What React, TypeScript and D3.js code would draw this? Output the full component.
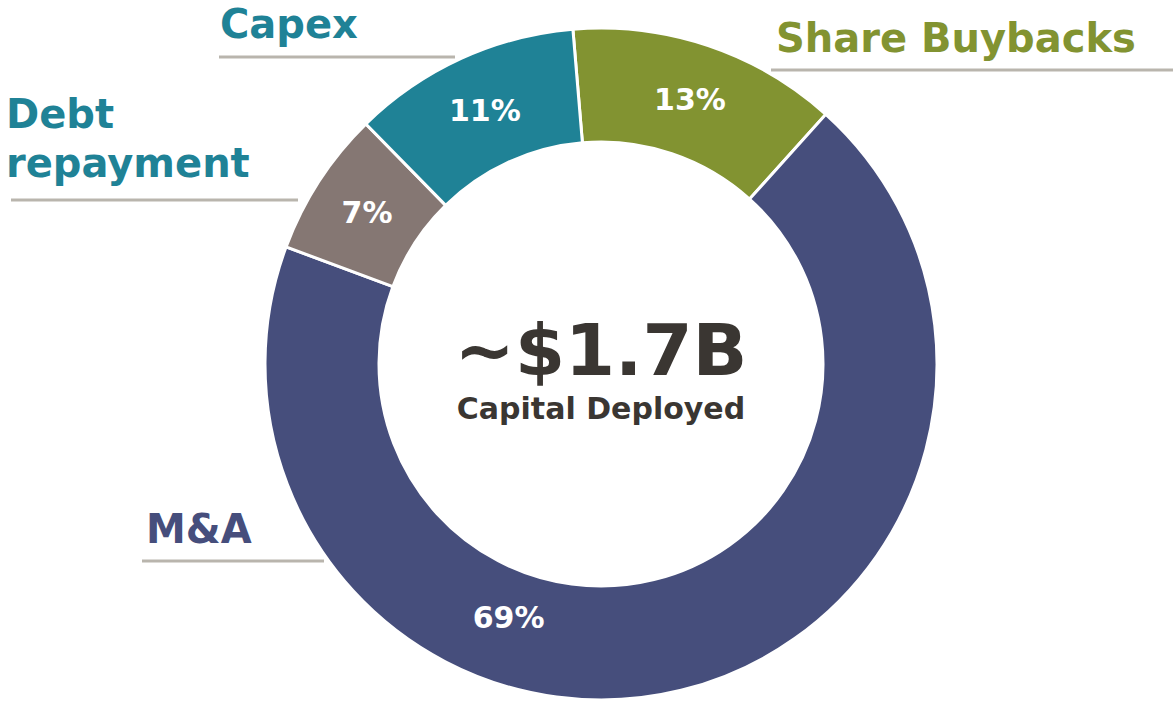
import React from 'react'
import * as d3 from 'd3'

const width = 1173
const height = 703
const cx = 601
const cy = 364
const outerR = 336
const innerR = 222
const startDeg = -4.8

const categories = ['Share Buybacks', 'M&A', 'Debt repayment', 'Capex']
const shares = [13, 69, 7, 11]
const colors = ['#829331', '#464E7C', '#857773', '#1F8296']
const labelColors = ['#829331', '#464E7C', '#1F8296', '#1F8296']
const totalText = '~$1.7B'
const totalCaption = 'Capital Deployed'

const font = "'DejaVu Sans', Verdana, sans-serif"
const lineColor = '#B9B5AD'

// callout labels outside the ring: text lines, anchor x, first baseline, underline
const callouts = [
  { lines: ['Share Buybacks'], x: 776, y: 52, line: [771, 1173, 70] },
  { lines: ['M&A'], x: 146, y: 543, line: [142, 324, 561] },
  { lines: ['Debt', 'repayment'], x: 6, y: 128, line: [11, 298, 200] },
  { lines: ['Capex'], x: 220, y: 38, line: [219, 455, 57] },
]

export default function App() {
  const start = (startDeg * Math.PI) / 180
  const pie = d3
    .pie<number>()
    .sort(null)
    .value((d) => d)
    .startAngle(start)
    .endAngle(start + 2 * Math.PI)
  const arcs = pie(shares)

  const arc = d3.arc<d3.PieArcDatum<number>>().innerRadius(innerR).outerRadius(outerR)

  const labelPos = (a: d3.PieArcDatum<number>, i: number) => {
    let ang = (a.startAngle + a.endAngle) / 2
    let r = (innerR + outerR) / 2
    // big slice label sits lower-left, like the original
    if (categories[i] === 'M&A') {
      ang = (200 * Math.PI) / 180
      r = 270
    }
    return [r * Math.sin(ang), -r * Math.cos(ang)]
  }

  return (
    <svg
      width={width}
      height={height}
      style={{ position: 'absolute', left: 0, top: 0, background: '#fff' }}
      fontFamily={font}
      fontWeight="bold"
    >
      <g transform={`translate(${cx},${cy})`}>
        {arcs.map((a, i) => (
          <path key={categories[i]} d={arc(a) || ''} fill={colors[i]} stroke="#fff" strokeWidth={3} />
        ))}
        {arcs.map((a, i) => {
          const [x, y] = labelPos(a, i)
          return (
            <text
              key={'p' + i}
              x={x}
              y={y}
              fill="#fff"
              fontSize={30}
              textAnchor="middle"
              dominantBaseline="central"
            >
              {shares[i]}%
            </text>
          )
        })}
        <text x={0} y={11} fontSize={72} fill="#3A3632" textAnchor="middle">
          {totalText}
        </text>
        <text x={0} y={55} fontSize={30} fill="#3A3632" textAnchor="middle">
          {totalCaption}
        </text>
      </g>
      {callouts.map((c, i) => (
        <g key={'c' + i}>
          {c.lines.map((t, j) => (
            <text key={j} x={c.x} y={c.y + j * 49} fontSize={40} fill={labelColors[i]}>
              {t}
            </text>
          ))}
          <line x1={c.line[0]} x2={c.line[1]} y1={c.line[2]} y2={c.line[2]} stroke={lineColor} strokeWidth={3} />
        </g>
      ))}
    </svg>
  )
}
